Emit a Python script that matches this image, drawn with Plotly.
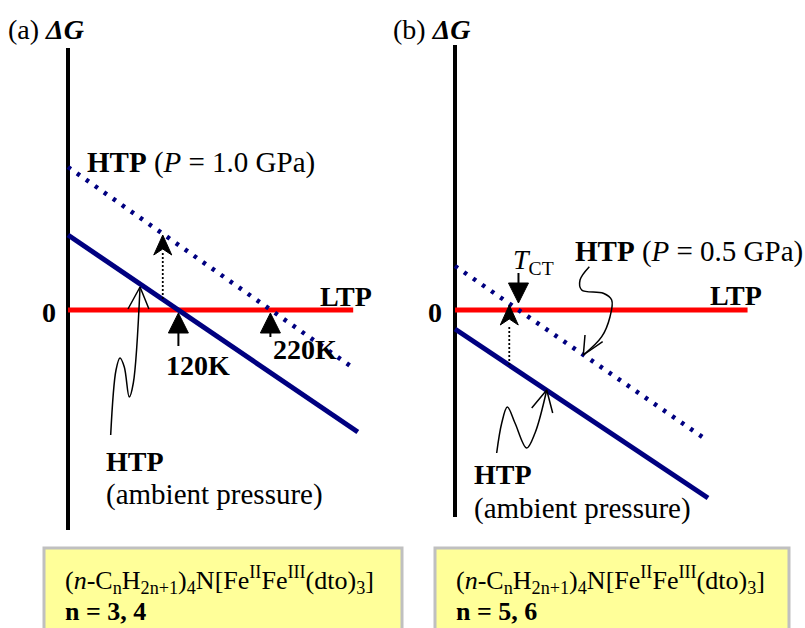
import plotly.graph_objects as go

# ---------------- page / scale ----------------
W, H = 805, 628
PX_PER_K = 0.92          # horizontal pixels per kelvin (schematic)
AXIS_A_PX = 68           # pixel x of the ΔG axis in panel (a)
AXIS_B_PX = 455          # pixel x of the ΔG axis in panel (b)
ZERO_PY = 310            # pixel y of ΔG = 0 (1 ΔG unit = 1 px)

NAVY = "#000080"
RED = "#FF0000"
FONT = "Liberation Serif, Times New Roman, serif"

# ---------------- panel (a) data : T (K), ΔG (arb.) ----------------
a_axis_T = [0, 0]
a_axis_G = [262, -220]
a_ltp_T = [0, 310]
a_ltp_G = [0, 0]
a_htp_amb_T = [0, 315]
a_htp_amb_G = [75, -122]
a_htp_p_T = [0, 310]
a_htp_p_G = [143, -58]
a_tc_amb = 120           # K, transition at ambient pressure
a_tc_p = 220             # K, transition at 1.0 GPa
a_shift_T = 103
a_shift_G = [11, 57]     # dotted stem (head tip at 75)
a_shift_tip = 75
a_curl_T = [46.4, 52.2, 56.5, 61.2, 66.6, 71.0, 78.3]
a_curl_G = [-125, -60, -48, -57, -87, -73, 23]
a_curl_head_T = [65.2, 78.3, 88.0]
a_curl_head_G = [1, 23, 1]

# ---------------- panel (b) data ----------------
b_axis_T = [0, 0]
b_axis_G = [265, -207]
b_ltp_T = [0, 318]
b_ltp_G = [0, 0]
b_htp_amb_T = [0, 275]
b_htp_amb_G = [-19, -188]
b_htp_p_T = [0, 272]
b_htp_p_G = [44, -129]
b_tct = 69               # T_CT under 0.5 GPa
b_shift_T = 59
b_shift_G = [-55, -16]
b_shift_tip = 5
b_curl1_T = [45.3, 50.8, 56.9, 65.2, 77.9, 87.0, 99.7]
b_curl1_G = [-143, -113, -97, -113, -138, -123, -80]
b_curl1_head_T = [83.4, 99.7, 106.2]
b_curl1_head_G = [-98, -80, -103]
b_curl2_T = [146.0, 135.9, 137.7, 161.2, 170.3, 168.5, 159.5, 139.5]
b_curl2_G = [43.3, 30, 20, 16.7, 10, -6.7, -26.7, -45]
b_curl2_head_T = [141.3, 139.5, 160.5]
b_curl2_head_G = [-25, -45, -31.7]

fig = go.Figure()


def line(T, G, xa, color, width, dash="solid", shape="linear"):
    fig.add_trace(go.Scatter(x=T, y=G, xaxis=xa, yaxis="y", mode="lines",
                             line=dict(color=color, width=width, dash=dash, shape=shape),
                             hoverinfo="skip", showlegend=False))


def tri_head(T0, G0, xa, up=True, half_px=10, len_px=20, notch_px=0):
    hw = half_px / PX_PER_K
    s = -1 if up else 1
    Ts = [T0 - hw, T0, T0 + hw, T0, T0 - hw]
    Gs = [G0 + s * len_px, G0, G0 + s * len_px, G0 + s * (len_px - notch_px), G0 + s * len_px]
    fig.add_trace(go.Scatter(x=Ts, y=Gs, xaxis=xa, yaxis="y", mode="lines",
                             fill="toself", fillcolor="black",
                             line=dict(color="black", width=1),
                             hoverinfo="skip", showlegend=False))


DOTS = "3.5px,7.5px"

# panel (a)
line(a_axis_T, a_axis_G, "x", "black", 4)
line(a_ltp_T, a_ltp_G, "x", RED, 5)
line(a_htp_amb_T, a_htp_amb_G, "x", NAVY, 5)
line(a_htp_p_T, a_htp_p_G, "x", NAVY, 4.5, dash=DOTS)
line([a_shift_T, a_shift_T], a_shift_G, "x", "black", 1.8, dash="2px,2px")
tri_head(a_shift_T, a_shift_tip, "x", up=True, half_px=9, len_px=20, notch_px=6)
line([a_tc_amb, a_tc_amb], [-23, -36], "x", "black", 2)
tri_head(a_tc_amb, -3, "x", up=True)
line([a_tc_p, a_tc_p], [-23, -27], "x", "black", 2)
tri_head(a_tc_p, -3, "x", up=True)
line(a_curl_T, a_curl_G, "x", "black", 1.5, shape="spline")
line(a_curl_head_T, a_curl_head_G, "x", "black", 1.5)

# panel (b)
line(b_axis_T, b_axis_G, "x2", "black", 4)
line(b_ltp_T, b_ltp_G, "x2", RED, 5)
line(b_htp_amb_T, b_htp_amb_G, "x2", NAVY, 5)
line(b_htp_p_T, b_htp_p_G, "x2", NAVY, 4.5, dash=DOTS)
line([b_shift_T, b_shift_T], b_shift_G, "x2", "black", 1.8, dash="2px,2px")
tri_head(b_shift_T, b_shift_tip, "x2", up=True, half_px=9, len_px=20, notch_px=6)
line([b_tct, b_tct], [37, 26], "x2", "black", 2)
tri_head(b_tct, 7, "x2", up=False)
line(b_curl1_T, b_curl1_G, "x2", "black", 1.5, shape="spline")
line(b_curl1_head_T, b_curl1_head_G, "x2", "black", 1.5)
line(b_curl2_T, b_curl2_G, "x2", "black", 1.5, shape="spline")
line(b_curl2_head_T, b_curl2_head_G, "x2", "black", 1.5)

# ---------------- text ----------------
annots = []


def txt(px, py, text, size=28, xanchor="left"):
    annots.append(dict(x=px / W, y=1 - py / H, xref="paper", yref="paper",
                       text=text, showarrow=False, xanchor=xanchor, yanchor="middle",
                       font=dict(family=FONT, size=size, color="black"),
                       borderpad=0))


txt(7, 29, "(a) <b><i>ΔG</i></b>")
txt(392, 29, "(b) <b><i>ΔG</i></b>")
txt(86, 162, "<b>HTP</b> (<i>P</i> = 1.0 GPa)", size=29)
txt(319, 296, "<b>LTP</b>")
txt(41, 313, "<b>0</b>")
txt(165, 365, "<b>120K</b>")
txt(272, 349, "<b>220K</b>")
txt(105, 461, "<b>HTP</b>")
txt(105, 494, "(ambient pressure)", size=29)

txt(512, 261, "<i>T</i><sub>CT</sub>")
txt(574, 251, "<b>HTP</b> (<i>P</i> = 0.5 GPa)", size=29)
txt(709, 295, "<b>LTP</b>")
txt(427, 313, "<b>0</b>")
txt(473, 474, "<b>HTP</b>")
txt(473, 508, "(ambient pressure)", size=29)

formula = "(<i>n</i>-C<sub>n</sub>H<sub>2n+1</sub>)<sub>4</sub>N[Fe<sup>II</sup>Fe<sup>III</sup>(dto)<sub>3</sub>]"
txt(64, 580, formula, size=26)
txt(64, 611, "<b>n = 3, 4</b>", size=26)
txt(455, 580, formula, size=26)
txt(455, 611, "<b>n = 5, 6</b>", size=26)

shapes = []
for x0, x1 in [(44, 402), (435, 789)]:
    shapes.append(dict(type="rect", xref="paper", yref="paper",
                       x0=x0 / W, x1=x1 / W, y0=1 - 548 / H, y1=1 - 660 / H,
                       fillcolor="#FFFF99", line=dict(color="#C0C0C0", width=3),
                       layer="below"))

fig.update_layout(
    width=W, height=H,
    margin=dict(l=0, r=0, t=0, b=0),
    paper_bgcolor="white", plot_bgcolor="white",
    xaxis=dict(range=[-AXIS_A_PX / PX_PER_K, (W - AXIS_A_PX) / PX_PER_K],
               visible=False, domain=[0, 1]),
    xaxis2=dict(range=[-AXIS_B_PX / PX_PER_K, (W - AXIS_B_PX) / PX_PER_K],
                visible=False, overlaying="x"),
    yaxis=dict(range=[-(H - ZERO_PY), ZERO_PY], visible=False, domain=[0, 1]),
    annotations=annots,
    shapes=shapes,
    showlegend=False,
)

fig.write_html("out.html", config={"displayModeBar": False},
               post_script="document.body.style.margin='0';")
